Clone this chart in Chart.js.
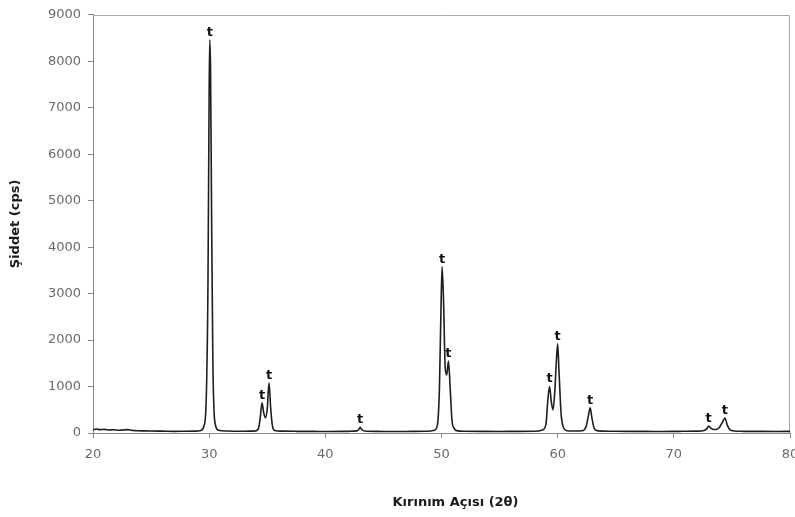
<!DOCTYPE html>
<html>
<head>
<meta charset="utf-8">
<script src="https://cdn.jsdelivr.net/npm/chart.js@4/dist/chart.umd.min.js"></script>
<style>
  html, body { margin: 0; padding: 0; background: #ffffff; }
  #wrap { position: relative; width: 795px; height: 517px; }
</style>
</head>
<body>
<div id="wrap"><canvas id="c" width="795" height="517"></canvas></div>
<script>
// Diffraction angle (2θ) sample points
const twoTheta = [
  20.0, 20.3, 20.6, 21.0, 21.4, 21.8, 22.2, 22.6, 23.0, 23.4, 23.8, 24.3, 25.0, 26.0, 27.0, 28.0, 28.8,
  29.3, 29.55, 29.75, 29.9, 30.0, 30.05, 30.12, 30.22, 30.32, 30.42, 30.55, 30.8, 31.5,
  32.5, 33.5, 34.0, 34.25, 34.4, 34.55, 34.7, 34.85, 35.0, 35.15, 35.3, 35.45, 35.65, 36.2,
  37.5, 39.0, 40.5, 42.0, 42.7, 42.9, 43.0, 43.15, 43.4, 44.5, 46.0, 47.5, 48.8,
  49.4, 49.65, 49.82, 49.95, 50.05, 50.18, 50.32, 50.45, 50.6, 50.75, 50.9, 51.1, 51.4, 52.0,
  53.5, 55.0, 56.5, 58.0, 58.7, 59.0, 59.15, 59.3, 59.45, 59.6, 59.75, 59.88, 60.0, 60.12,
  60.3, 60.5, 60.8, 61.4, 62.1, 62.45, 62.65, 62.8, 62.95, 63.15, 63.5, 64.5,
  66.0, 67.5, 69.0, 70.5, 72.0, 72.6, 72.85, 73.0, 73.2, 73.45, 73.7, 73.95, 74.2, 74.4,
  74.6, 74.85, 75.2, 76.0, 77.5, 79.0, 80.0
];
// Intensity (cps) at each sample point
const intensity = [
  70, 85, 72, 78, 64, 70, 58, 66, 72, 55, 50, 46, 42, 40, 36, 38, 40,
  55, 150, 750, 3300, 7400, 8460, 7800, 4300, 1500, 480, 160, 60, 42,
  38, 40, 45, 100, 340, 650, 430, 330, 520, 1080, 520, 150, 55, 40,
  36, 34, 32, 36, 45, 85, 120, 70, 42, 35, 32, 34, 38,
  60, 180, 950, 2600, 3580, 2800, 1400, 1250, 1550, 950, 280, 95, 45, 38,
  35, 33, 35, 38, 65, 200, 700, 1000, 680, 500, 880, 1500, 1920, 1300,
  400, 120, 50, 42, 48, 140, 380, 540, 320, 95, 45, 38,
  35, 34, 33, 36, 40, 55, 95, 150, 100, 75, 80, 130, 240, 320,
  170, 65, 42, 36, 34, 33, 35
];
// Peak markers ("t") and where they sit
const peakPositions = [30.05, 34.55, 35.15, 43.0, 50.05, 50.6, 59.3, 60.0, 62.8, 73.0, 74.4];
const peakHeights   = [8460, 650, 1080, 120, 3580, 1550, 1000, 1920, 540, 150, 320];
const peakLabels    = ['t', 't', 't', 't', 't', 't', 't', 't', 't', 't', 't'];
// Axis tick settings
const xTickMin = 20, xTickMax = 80, xTickStep = 10;
const yTickMin = 0, yTickMax = 9000, yTickStep = 1000;
const xTitle = 'Kırınım Açısı (2θ)';
const yTitle = 'Şiddet (cps)';

const points = twoTheta.map((x, i) => ({ x: x, y: intensity[i] }));

const framePlugin = {
  id: 'frame',
  beforeDatasetsDraw(chart) {
    const { ctx, chartArea: a } = chart;
    ctx.save();
    ctx.strokeStyle = '#a8a8a8';
    ctx.lineWidth = 1;
    ctx.beginPath();
    ctx.moveTo(a.left, Math.round(a.top) + 0.5);
    ctx.lineTo(Math.round(a.right) - 0.5, Math.round(a.top) + 0.5);
    ctx.lineTo(Math.round(a.right) - 0.5, a.bottom);
    ctx.stroke();
    ctx.restore();
  }
};

const peakLabelPlugin = {
  id: 'peakLabels',
  afterDatasetsDraw(chart) {
    const { ctx, scales } = chart;
    ctx.save();
    ctx.font = 'bold 13px "DejaVu Sans"';
    ctx.fillStyle = '#111111';
    ctx.textAlign = 'center';
    ctx.textBaseline = 'bottom';
    peakPositions.forEach((p, i) => {
      const px = scales.x.getPixelForValue(p);
      const py = scales.y.getPixelForValue(peakHeights[i]);
      ctx.fillText(peakLabels[i], px, py - 1);
    });
    ctx.restore();
  }
};

const xTitlePlugin = {
  id: 'xTitle',
  afterDraw(chart) {
    const { ctx, chartArea: a, height } = chart;
    ctx.save();
    ctx.font = 'bold 13px "DejaVu Sans"';
    ctx.fillStyle = '#1a1a1a';
    ctx.textAlign = 'center';
    ctx.textBaseline = 'middle';
    ctx.fillText(xTitle, (a.left + a.right) / 2 + 14, height - 14);
    ctx.restore();
  }
};

new Chart(document.getElementById('c'), {
  type: 'line',
  data: {
    datasets: [{
      data: points,
      borderColor: '#1e1e1e',
      borderWidth: 1.6,
      pointRadius: 0,
      fill: false,
      cubicInterpolationMode: 'monotone'
    }]
  },
  options: {
    responsive: false,
    animation: false,
    layout: { padding: { left: 0, right: 5, top: 13, bottom: 0 } },
    plugins: { legend: { display: false }, tooltip: { enabled: false } },
    scales: {
      x: {
        type: 'linear',
        min: xTickMin, max: xTickMax,
        ticks: { stepSize: xTickStep, color: '#6a6a6a', font: { family: 'DejaVu Sans', size: 13 }, padding: 9, maxRotation: 0, callback: v => String(v) },
        grid: { display: true, drawOnChartArea: false, drawTicks: true, tickLength: 5, color: '#888888' },
        border: { display: true, color: '#888888' },
        title: { display: false },
        afterFit(s) { s.height = 84; s.paddingRight = 0; s.paddingLeft = 0; }
      },
      y: {
        type: 'linear',
        min: yTickMin, max: yTickMax,
        ticks: { stepSize: yTickStep, color: '#6a6a6a', font: { family: 'DejaVu Sans', size: 13 }, padding: 7, callback: v => String(v) },
        grid: { display: true, drawOnChartArea: false, drawTicks: true, tickLength: 5, color: '#888888' },
        border: { display: true, color: '#888888' },
        title: { display: true, text: yTitle, color: '#1a1a1a', font: { family: 'DejaVu Sans', size: 13, weight: 'bold' }, padding: { top: 8, bottom: 0 } },
        afterFit(s) { s.width = 93; }
      }
    }
  },
  plugins: [framePlugin, peakLabelPlugin, xTitlePlugin]
});
</script>
</body>
</html>
